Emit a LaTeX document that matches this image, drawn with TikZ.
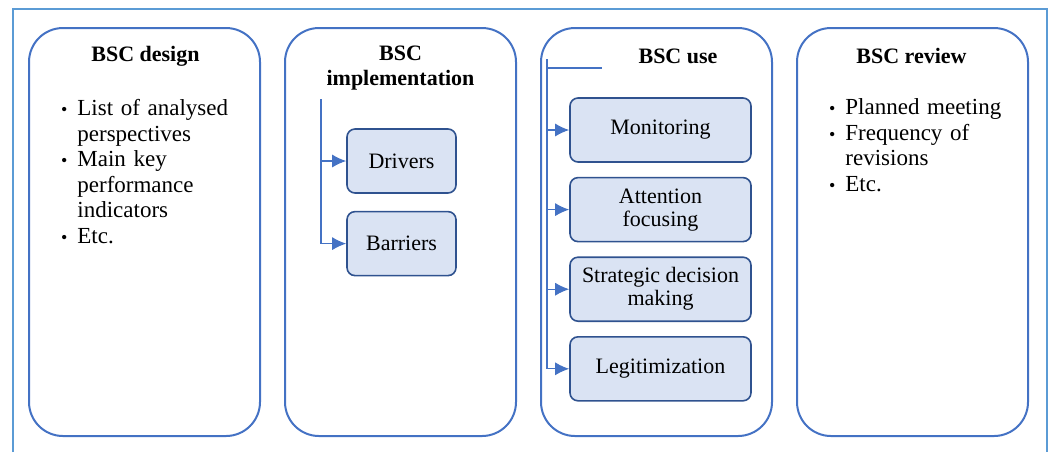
\documentclass[tikz,border=0pt]{standalone}
\usepackage{fontspec}
\setmainfont{Liberation Serif}
\usepackage{enumitem}
\usetikzlibrary{positioning,arrows.meta}

\definecolor{panelblue}{HTML}{4472C4}
\definecolor{frameblue}{HTML}{5B9BD5}
\definecolor{boxline}{HTML}{2F528F}
\definecolor{boxfill}{HTML}{DAE3F3}

\newcommand{\bsclist}[2]{\begin{itemize}[leftmargin=#1,labelsep=5pt,itemsep=0pt,topsep=0pt,parsep=0pt,partopsep=0pt,label={\small\textbullet}]#2\end{itemize}}

\begin{document}
\begin{tikzpicture}[x=0.5pt, y=-0.5pt, node distance=7pt,
    panel/.style={draw=panelblue, line width=1pt, rounded corners=17pt,
                  minimum width=115.5pt, minimum height=204pt},
    title/.style={font=\fontsize{11}{12.5}\selectfont\bfseries, align=center},
    bullets/.style={anchor=north west, inner sep=0pt, text width=95pt,
                    font=\fontsize{11.5}{12.75}\selectfont},
    itembox/.style={draw=boxline, fill=boxfill, line width=0.8pt, rounded corners=4pt,
                    minimum height=32pt, align=center,
                    font=\fontsize{11}{11.5}\selectfont},
    smallbox/.style={itembox, minimum width=54.5pt},
    widebox/.style={itembox, minimum width=90.5pt},
    spine/.style={draw=panelblue, line width=0.6pt},
    flow/.style={spine, -{Latex[length=7pt,width=6.5pt]}}]

  \useasboundingbox (0,0) rectangle (1054,452);
  \draw[frameblue, line width=0.8pt] (13,452) -- (13,9) -- (1047,9) -- (1047,452);

  % the four stages
  \node[panel] (design) at (144.5,232) {};
  \node[panel] (impl) at (400.5,232) {};
  \node[panel] (use) at (656.5,232) {};
  \node[panel] (review) at (912.5,232) {};

  \node[title] (designtitle) at (145.5,56) {BSC design};
  \node[title] (impltitle) at (400.5,68.5) {BSC\\implementation};
  \node[title] (usetitle) at (678,56) {BSC use};
  \node[title] (reviewtitle) at (911.5,56) {BSC review};

  \node[bullets] (designlist) at (52,90) {\bsclist{12.5pt}{\item List of analysed\\perspectives
      \item Main key\\performance\\indicators \item Etc.}};
  \node[bullets] (reviewlist) at (816,89) {\bsclist{14.5pt}{\item Planned meeting
      \item Frequency of\\revisions \item Etc.}};

  % implementation
  \node[smallbox] (drivers) at (401.5,161) {Drivers};
  \node[smallbox] (barriers) [below=8.5pt of drivers] {Barriers};

  \coordinate (impltop) at (321,99);
  \path[spine] (impltop) -- (impltop |- barriers.west);
  \draw[flow] (impltop |- drivers.west) -- (drivers.west);
  \draw[flow] (impltop |- barriers.west) -- (barriers.west);

  % use
  \node[widebox] (monitoring) at (660.5,130) {Monitoring};
  \node[widebox] (attention) [below=7pt of monitoring] {Attention\\focusing};
  \node[widebox] (strategic) [below=7pt of attention] {Strategic decision\\making};
  \node[widebox] (legit) [below=7pt of strategic] {Legitimization};

  \coordinate (usetop) at (547,59);
  \coordinate (usestub) at (602,68);
  \path[spine] (usetop) -- (usetop |- legit.west);
  \path[spine] (usetop |- usestub) -- (usestub);
  \draw[flow] (usetop |- monitoring.west) -- (monitoring.west);
  \draw[flow] (usetop |- attention.west) -- (attention.west);
  \draw[flow] (usetop |- strategic.west) -- (strategic.west);
  \draw[flow] (usetop |- legit.west) -- (legit.west);

\end{tikzpicture}
\end{document}
